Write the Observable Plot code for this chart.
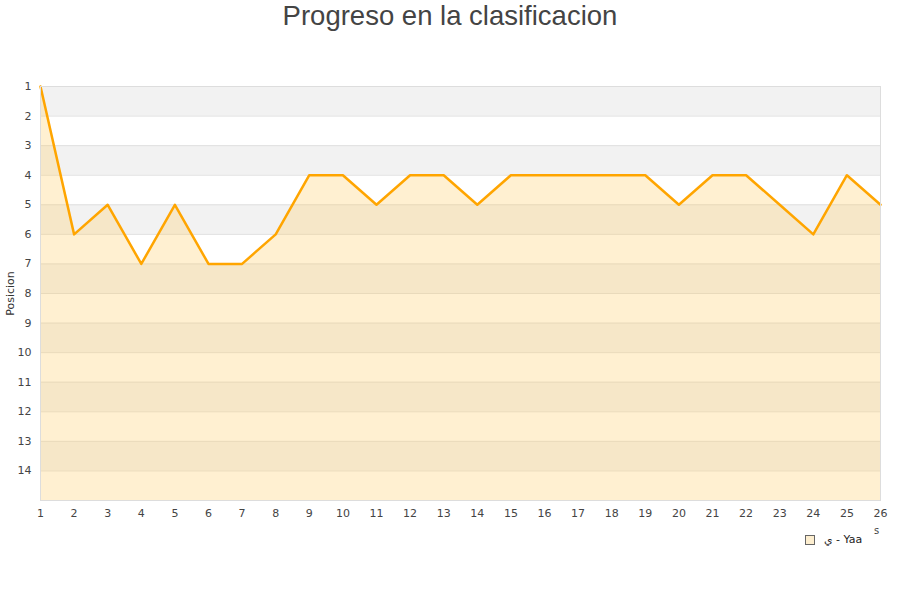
<!DOCTYPE html>
<html>
<head>
<meta charset="utf-8">
<script src="https://cdn.jsdelivr.net/npm/d3@7"></script>
<script src="https://cdn.jsdelivr.net/npm/@observablehq/plot@0.6"></script>
<style>
  html, body { margin: 0; padding: 0; background: #fff; }
  #wrap { position: relative; width: 900px; height: 600px; overflow: hidden; }
  #title { height: 46px; text-align: center; font-family: "Liberation Sans", Arial, sans-serif; font-size: 27.5px; color: #444; line-height: 32px; }
  #legend { position: absolute; left: 805px; top: 533px; font-family: "DejaVu Sans", sans-serif; font-size: 11px; color: #222; display: flex; align-items: center; }
  #legend .sw { width: 8px; height: 8px; border: 1px solid #666; background: #fdeecf; margin-right: 9px; }
  #extra { position: absolute; left: 874px; top: 525px; font-family: "DejaVu Sans", sans-serif; font-size: 10px; color: #444; }
  svg { display: block; }
</style>
</head>
<body>
<div id="wrap">
  <div id="title"></div>
  <div id="chart"></div>
  <div id="legend"><div class="sw"></div><span id="legtext"></span></div>
  <div id="extra">s</div>
</div>
<script>
const titleText = "Progreso en la clasificacion";
const yLabel = "Posicion";
const seriesName = "ي - Yaa";
const jornadas = [1,2,3,4,5,6,7,8,9,10,11,12,13,14,15,16,17,18,19,20,21,22,23,24,25,26];
const posiciones = [1,6,5,7,5,7,7,6,4,4,5,4,4,5,4,4,4,4,4,5,4,4,5,6,4,5];
const yTicks = [1,2,3,4,5,6,7,8,9,10,11,12,13,14];
const yDomain = [1, 15];
const bandStarts = [1,3,5,7,9,11,13];

document.getElementById("title").textContent = titleText;
document.getElementById("legtext").textContent = seriesName;

const data = jornadas.map((j, i) => ({j, p: posiciones[i]}));
const bottom = yDomain[1];

const chart = Plot.plot({
  width: 900,
  height: 480,
  marginTop: 40,
  marginBottom: 26,
  marginLeft: 40,
  marginRight: 20,
  style: {fontFamily: "DejaVu Sans, sans-serif", fontSize: "11px", color: "#444", background: "#fff"},
  x: {domain: [1, 26], ticks: jornadas, tickFormat: d => String(d), tickSize: 0, tickPadding: 9, label: null},
  y: {domain: yDomain, reverse: true, ticks: yTicks, tickFormat: d => String(d), tickSize: 0, tickPadding: 9, label: null},
  marks: [
    Plot.rect(bandStarts, {y1: d => d, y2: d => d + 1, fill: "#f2f2f2"}),
    Plot.gridY(yTicks, {stroke: "#e0e0e0", strokeOpacity: 1}),
    Plot.areaY(data, {x: "j", y1: () => bottom, y2: "p", fill: "#ffcc66", fillOpacity: 0.3}),
    Plot.lineY(data, {x: "j", y: "p", stroke: "#ffa500", strokeWidth: 2.5}),
    Plot.frame({stroke: "#dddddd"}),
    Plot.axisX({ticks: jornadas, tickSize: 0, tickPadding: 9, label: null, tickFormat: d => String(d)}),
    Plot.axisY({ticks: yTicks, tickSize: 0, tickPadding: 9, label: null, tickFormat: d => String(d)}),
    Plot.text([yLabel], {frameAnchor: "left", textAnchor: "middle", dx: -30, rotate: -90, text: d => d, fill: "#333", fontSize: 11})
  ]
});
document.getElementById("chart").appendChild(chart);
</script>
</body>
</html>
